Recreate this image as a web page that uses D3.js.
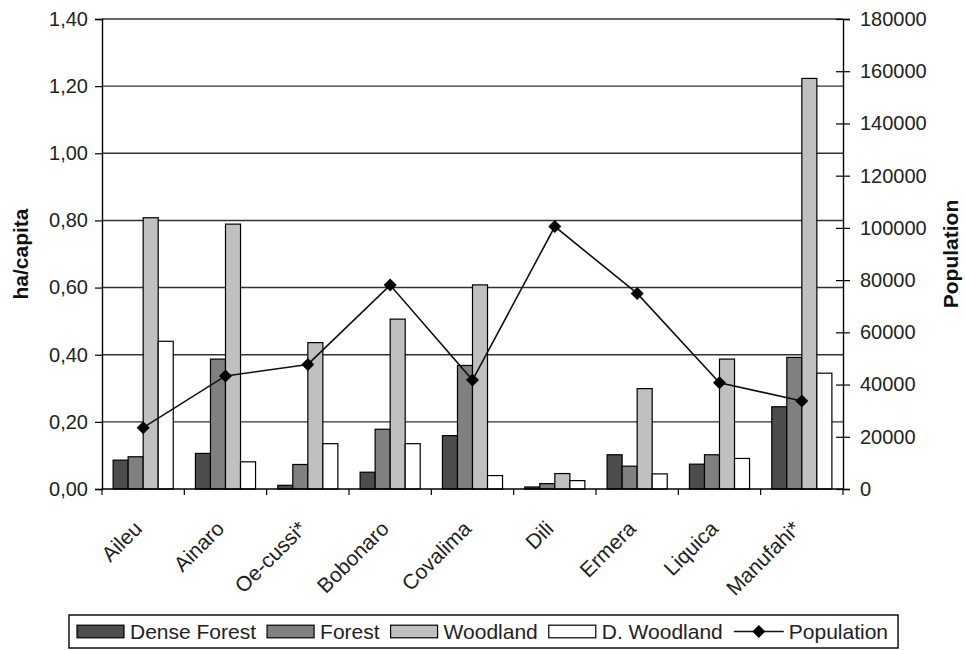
<!DOCTYPE html>
<html>
<head>
<meta charset="utf-8">
<script src="https://cdn.jsdelivr.net/npm/d3@7/dist/d3.min.js"></script>
<style>
  html, body { margin: 0; padding: 0; background: #fff; }
  svg { display: block; font-family: "Liberation Sans", Arial, Helvetica, sans-serif; }
</style>
</head>
<body>
<svg id="chart" width="965" height="650"></svg>
<script>
// ---- data ----
const districts = ["Aileu", "Ainaro", "Oe-cussi*", "Bobonaro", "Covalima", "Dili", "Ermera", "Liquica", "Manufahi*"];
const seriesNames = ["Dense Forest", "Forest", "Woodland", "D. Woodland"];
const denseForest = [0.086, 0.106, 0.011, 0.050, 0.159, 0.006, 0.102, 0.074, 0.245];
const forest      = [0.096, 0.387, 0.073, 0.178, 0.368, 0.016, 0.068, 0.102, 0.392];
const woodland    = [0.808, 0.789, 0.436, 0.506, 0.608, 0.046, 0.299, 0.387, 1.223];
const dWoodland   = [0.440, 0.081, 0.135, 0.135, 0.040, 0.025, 0.045, 0.091, 0.345];
const population  = [23500, 43300, 47700, 78100, 41700, 100500, 74900, 40700, 33700];
const leftTicks   = [0, 0.2, 0.4, 0.6, 0.8, 1.0, 1.2, 1.4];
const rightTicks  = [0, 20000, 40000, 60000, 80000, 100000, 120000, 140000, 160000, 180000];
const seriesColors = ["#4d4d4d", "#808080", "#c0c0c0", "#ffffff"];

const seriesValues = [denseForest, forest, woodland, dWoodland];

// ---- layout ----
const svg = d3.select("#chart");
const L = 102, R = 843, T = 19, B = 489;

const x = d3.scaleBand().domain(districts).range([L, R]).paddingInner(0).paddingOuter(0);
const bw = x.bandwidth();
const off = bw * 0.135;
const x1 = d3.scaleBand().domain(seriesNames).range([off, bw - off]).padding(0);
const y = d3.scaleLinear().domain([0, 1.4]).range([B, T]);
const yP = d3.scaleLinear().domain([0, 180000]).range([B, T]);

const fmtComma = v => d3.format(".2f")(v).replace(".", ",");

// gridlines
svg.append("g").selectAll("line")
  .data(leftTicks.filter(d => d > 0))
  .join("line")
  .attr("x1", L).attr("x2", R)
  .attr("y1", d => y(d)).attr("y2", d => y(d))
  .attr("stroke", "#333").attr("stroke-width", 1.4);

// bars
const groups = svg.append("g").selectAll("g")
  .data(districts)
  .join("g")
  .attr("transform", d => `translate(${x(d)},0)`);

groups.selectAll("rect")
  .data((d, i) => seriesNames.map((s, k) => ({ s, k, v: seriesValues[k][i] })))
  .join("rect")
  .attr("x", d => x1(d.s))
  .attr("width", x1.bandwidth())
  .attr("y", d => y(d.v))
  .attr("height", d => B - y(d.v))
  .attr("fill", d => seriesColors[d.k])
  .attr("stroke", "#000")
  .attr("stroke-width", 1.2);

// left axis
const gL = svg.append("g").attr("transform", `translate(${L},0)`)
  .call(d3.axisLeft(y).tickValues(leftTicks).tickFormat(fmtComma).tickSizeOuter(0).tickSize(7).tickPadding(7));
gL.select(".domain").attr("stroke", "#000").attr("stroke-width", 1.4);
gL.selectAll(".tick line").attr("stroke", "#000").attr("stroke-width", 1.2);
gL.selectAll(".tick text").attr("font-size", 20).attr("fill", "#222").attr("font-family", "Liberation Sans, Arial, sans-serif");

// right axis
const gR = svg.append("g").attr("transform", `translate(${R},0)`)
  .call(d3.axisRight(yP).tickValues(rightTicks).tickFormat(d3.format("d")).tickSizeOuter(0).tickSize(7).tickPadding(10));
gR.select(".domain").attr("stroke", "#000").attr("stroke-width", 1.4);
gR.selectAll(".tick line").attr("x1", -7).attr("x2", 7).attr("stroke", "#000").attr("stroke-width", 1.2);
gR.selectAll(".tick text").attr("font-size", 20).attr("fill", "#222").attr("font-family", "Liberation Sans, Arial, sans-serif");

// x axis
const gX = svg.append("g");
gX.append("line").attr("x1", L).attr("x2", R).attr("y1", B).attr("y2", B)
  .attr("stroke", "#000").attr("stroke-width", 1.4);
gX.selectAll("line.tk")
  .data(d3.range(districts.length + 1))
  .join("line").attr("class", "tk")
  .attr("x1", i => L + i * bw).attr("x2", i => L + i * bw)
  .attr("y1", B).attr("y2", B + 6)
  .attr("stroke", "#000").attr("stroke-width", 1.2);
gX.selectAll("text")
  .data(districts)
  .join("text")
  .attr("transform", d => `translate(${x(d) + bw / 2},${B + 41}) rotate(-45)`)
  .attr("text-anchor", "end")
  .attr("font-size", 21)
  .attr("fill", "#222")
  .text(d => d);

// population line
const line = d3.line().x((d, i) => x(districts[i]) + bw / 2).y(d => yP(d));
svg.append("path").datum(population)
  .attr("d", line).attr("fill", "none").attr("stroke", "#111").attr("stroke-width", 1.6);
svg.append("g").selectAll("path")
  .data(population)
  .join("path")
  .attr("transform", (d, i) => `translate(${x(districts[i]) + bw / 2},${yP(d)}) rotate(45)`)
  .attr("d", "M-4.6,-4.6H4.6V4.6H-4.6Z")
  .attr("fill", "#000");

// axis titles
svg.append("text")
  .attr("transform", `translate(28,${(T + B) / 2}) rotate(-90)`)
  .attr("text-anchor", "middle")
  .attr("font-size", 21).attr("font-weight", "bold").attr("fill", "#111")
  .text("ha/capita");
svg.append("text")
  .attr("transform", `translate(958,${(T + B) / 2}) rotate(-90)`)
  .attr("text-anchor", "middle")
  .attr("font-size", 21).attr("font-weight", "bold").attr("fill", "#111")
  .text("Population");

// legend
const lg = svg.append("g");
const legTop = 615, legBot = 648, legLeft = 69;
const box = lg.append("rect").attr("x", legLeft).attr("y", legTop).attr("height", legBot - legTop)
  .attr("fill", "#fff").attr("stroke", "#000").attr("stroke-width", 1.4);
let cx = 77;
const cy = (legTop + legBot) / 2;
seriesNames.forEach((s, k) => {
  lg.append("rect").attr("x", cx).attr("y", cy - 6.3).attr("width", 47).attr("height", 12.6)
    .attr("fill", seriesColors[k]).attr("stroke", "#000").attr("stroke-width", 1.2);
  const t = lg.append("text").attr("x", cx + 53).attr("y", cy).attr("dy", "0.36em")
    .attr("font-size", 21).attr("fill", "#222").text(s);
  cx = cx + 53 + t.node().getComputedTextLength() + 11;
});
lg.append("line").attr("x1", cx).attr("x2", cx + 50).attr("y1", cy).attr("y2", cy)
  .attr("stroke", "#111").attr("stroke-width", 1.6);
lg.append("path").attr("transform", `translate(${cx + 25},${cy}) rotate(45)`)
  .attr("d", "M-4.6,-4.6H4.6V4.6H-4.6Z").attr("fill", "#000");
const tp = lg.append("text").attr("x", cx + 55).attr("y", cy).attr("dy", "0.36em")
  .attr("font-size", 21).attr("fill", "#222").text("Population");
const endX = cx + 55 + tp.node().getComputedTextLength() + 10;
box.attr("width", endX - legLeft);
</script>
</body>
</html>
